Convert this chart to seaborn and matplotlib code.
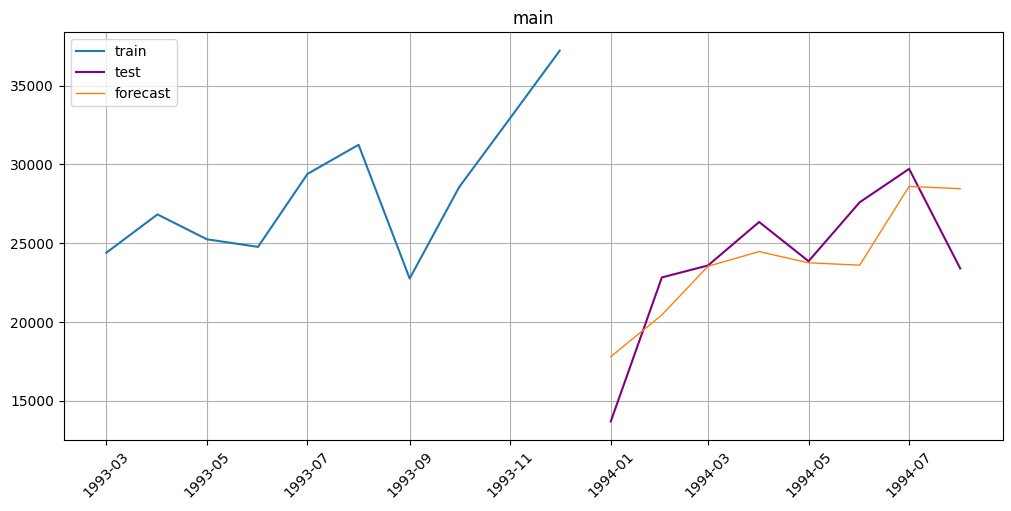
import matplotlib

matplotlib.use("Agg")
import matplotlib.dates as mdates
import matplotlib.pyplot as plt
import pandas as pd
import seaborn as sns

train_dates = pd.date_range("1993-03-01", periods=10, freq="MS")
train_values = [24400, 26830, 25250, 24770, 29400, 31250, 22760, 28560, 32950, 37220]

test_dates = pd.date_range("1994-01-01", periods=8, freq="MS")
test_values = [13690, 22830, 23590, 26350, 23860, 27600, 29720, 23400]
forecast_values = [17800, 20450, 23540, 24470, 23760, 23610, 28610, 28460]

train_df = pd.DataFrame({"timestamp": train_dates, "target": train_values})
test_df = pd.DataFrame({"timestamp": test_dates, "target": test_values})
forecast_df = pd.DataFrame({"timestamp": test_dates, "target": forecast_values})

fig, ax = plt.subplots(figsize=(10.11, 5.11), dpi=100)
fig.subplots_adjust(left=0.063, right=0.992, top=0.937, bottom=0.139)

sns.lineplot(data=train_df, x="timestamp", y="target", ax=ax, label="train",
             color="#1f77b4", linewidth=1.5)
sns.lineplot(data=test_df, x="timestamp", y="target", ax=ax, label="test",
             color="purple", linewidth=1.5)
sns.lineplot(data=forecast_df, x="timestamp", y="target", ax=ax, label="forecast",
             color="#ff7f0e", linewidth=1.0)

ax.xaxis.set_major_locator(mdates.MonthLocator(bymonth=[1, 3, 5, 7, 9, 11]))
ax.xaxis.set_major_formatter(mdates.DateFormatter("%Y-%m"))
ax.tick_params(axis="x", labelrotation=45)
ax.set_xlabel("")
ax.set_ylabel("")
ax.set_title("main")
ax.grid(True)
ax.legend(loc="upper left")

plt.savefig("out.png", dpi=100)
